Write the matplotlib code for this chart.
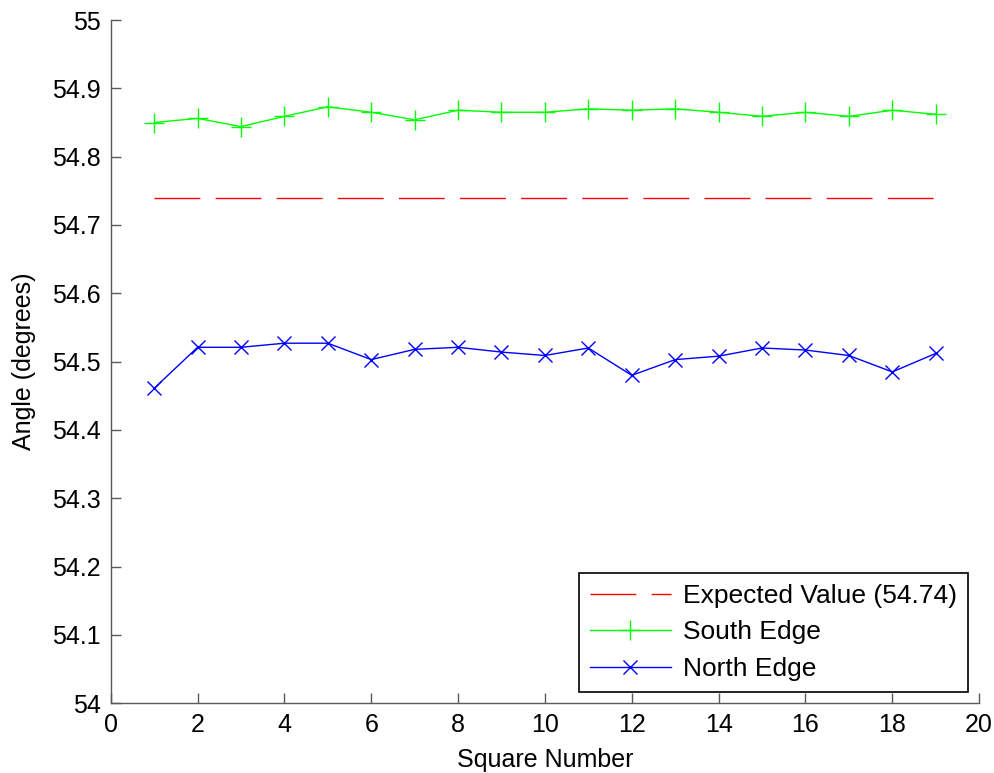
import numpy as np
import matplotlib
matplotlib.use("Agg")
import matplotlib.pyplot as plt

plt.rcParams['font.family'] = ['Liberation Sans', 'DejaVu Sans']

square = list(range(1, 20))
expected = 54.74
south_edge = [54.850, 54.856, 54.844, 54.859, 54.873, 54.865, 54.854, 54.868,
              54.865, 54.865, 54.870, 54.868, 54.870, 54.865, 54.859, 54.865,
              54.859, 54.868, 54.862]
north_edge = [54.461, 54.521, 54.521, 54.527, 54.527, 54.503, 54.518, 54.521,
              54.514, 54.509, 54.520, 54.480, 54.503, 54.508, 54.520, 54.517,
              54.509, 54.485, 54.512]

xticks = list(range(0, 21, 2))
yticks = [54, 54.1, 54.2, 54.3, 54.4, 54.5, 54.6, 54.7, 54.8, 54.9, 55]
ytick_labels = ['54', '54.1', '54.2', '54.3', '54.4', '54.5', '54.6',
                '54.7', '54.8', '54.9', '55']


def main():
    fig = plt.figure(figsize=(9.94, 7.73), dpi=100)
    ax = fig.add_axes([0.1114, 0.0902, 0.8736, 0.8839])

    ax.plot(square, [expected] * len(square), color='#ff0000', lw=1.0,
            dashes=(33, 11), label='Expected Value (54.74)')
    ax.plot(square, south_edge, color='#00ff00', lw=1.0, marker='+',
            markersize=14, markeredgewidth=1.0, label='South Edge')
    ax.plot(square, north_edge, color='#0000ff', lw=1.0, marker='x',
            markersize=10, markeredgewidth=1.0, label='North Edge')

    ax.set_xlim(0, 20)
    ax.set_ylim(54, 55)
    ax.set_xticks(xticks)
    ax.set_yticks(yticks)
    ax.set_yticklabels(ytick_labels)

    for side in ['top', 'right']:
        ax.spines[side].set_visible(False)
    for side in ['left', 'bottom']:
        ax.spines[side].set_color('0.35')
        ax.spines[side].set_linewidth(1.0)

    ax.tick_params(direction='in', length=7, width=1.0, color='0.35',
                   labelsize=18, pad=7)

    ax.set_xlabel('Square Number', fontsize=18, labelpad=8)
    ax.set_ylabel('Angle (degrees)', fontsize=18, labelpad=12)

    leg = ax.legend(loc='lower right', bbox_to_anchor=(0.987, 0.017),
                    fontsize=19, fancybox=False, framealpha=1,
                    handlelength=3.1, borderpad=0.4, labelspacing=0.48,
                    handletextpad=0.45, borderaxespad=0)
    leg.get_frame().set_edgecolor('black')
    leg.get_frame().set_linewidth(1.2)

    fig.savefig('out.png', dpi=100)


if __name__ == "__main__":
    main()
